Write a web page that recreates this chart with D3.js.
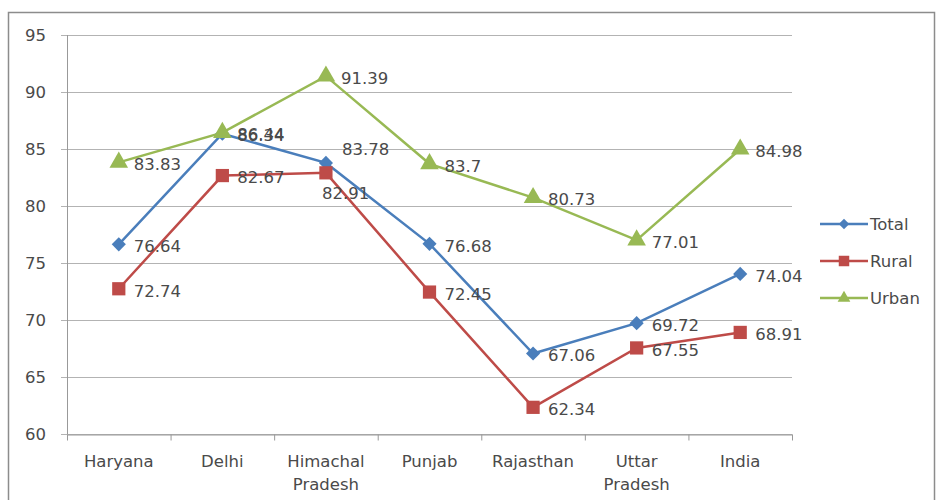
<!DOCTYPE html>
<html>
<head>
<meta charset="utf-8">
<script src="https://cdn.jsdelivr.net/npm/d3@7"></script>
<style>
  body { margin: 0; background: #fff; }
  svg text { font-family: "DejaVu Sans", sans-serif; fill: #4a4a4a; }
</style>
</head>
<body>
<div class="chart"></div>
<script>
// chart data
const categories = ["Haryana", "Delhi", "Himachal Pradesh", "Punjab", "Rajasthan", "Uttar Pradesh", "India"]
const total = [76.64, 86.34, 83.78, 76.68, 67.06, 69.72, 74.04]
const rural = [72.74, 82.67, 82.91, 72.45, 62.34, 67.55, 68.91]
const urban = [83.83, 86.44, 91.39, 83.7, 80.73, 77.01, 84.98]
const yTicks = [60, 65, 70, 75, 80, 85, 90, 95]

const width = 937, height = 500
const padding = {left: 67, right: 145, top: 35, bottom: 66}
const fontSize = 16.5

const series = [
    {name: "Total", values: total, color: "#4a7ebb", shape: d3.symbolSquare, rot: 45, size: 100, legendSize: 55},
    {name: "Rural", values: rural, color: "#be4b48", shape: d3.symbolSquare, rot: 0, size: 175, legendSize: 110},
    {name: "Urban", values: urban, color: "#98b954", shape: d3.symbolTriangle, rot: 0, size: 150, legendSize: 70}
]

// some labels sit off the default right-hand spot
const labelShift = {
    "Total-2": [16, -14],
    "Rural-2": [-4, 20]
}

const svg = d3.select(".chart").append("svg").attr("width", width).attr("height", height)

svg.append("rect")
    .attr("x", 8.5).attr("y", 12.5)
    .attr("width", 926).attr("height", 490)
    .attr("fill", "none").attr("stroke", "#8c8c8c").attr("stroke-width", 1.5)

const xScale = d3.scaleBand()
    .domain(categories)
    .range([padding.left, width - padding.right])

const yScale = d3.scaleLinear()
    .domain([60, 95])
    .range([height - padding.bottom, padding.top])

// grid
svg.append("g")
    .selectAll("line")
    .data(yTicks)
    .enter()
    .append("line")
    .attr("x1", padding.left - 6)
    .attr("x2", width - padding.right)
    .attr("y1", d => Math.round(yScale(d)) + 0.5)
    .attr("y2", d => Math.round(yScale(d)) + 0.5)
    .attr("stroke", "#b3b3b3")

svg.append("line")
    .attr("x1", padding.left + 0.5).attr("x2", padding.left + 0.5)
    .attr("y1", padding.top).attr("y2", yScale(60))
    .attr("stroke", "#999")

svg.append("g")
    .selectAll("text")
    .data(yTicks)
    .enter()
    .append("text")
    .attr("x", 46)
    .attr("y", d => yScale(d))
    .attr("dy", "0.35em")
    .attr("text-anchor", "end")
    .attr("font-size", fontSize)
    .text(d => d)

// x axis
const xAxis = svg.append("g")
    .attr("transform", "translate(0," + (Math.round(yScale(60)) + 0.5) + ")")
    .call(d3.axisBottom(xScale).tickSize(0).tickFormat(""))
xAxis.select(".domain").attr("stroke", "#999")
const bounds = categories.map(c => xScale(c)).concat([width - padding.right])
xAxis.selectAll(".edge")
    .data(bounds)
    .enter()
    .append("line")
    .attr("x1", d => d + 0.5).attr("x2", d => d + 0.5)
    .attr("y1", 0).attr("y2", 6)
    .attr("stroke", "#999")

svg.append("g")
    .selectAll("text")
    .data(categories)
    .enter()
    .append("text")
    .attr("text-anchor", "middle")
    .attr("font-size", fontSize)
    .each(function(d) {
        const words = d.split(" ")
        const t = d3.select(this)
        words.forEach((w, i) => {
            t.append("tspan")
                .attr("x", xScale(d) + xScale.bandwidth() / 2)
                .attr("y", 467 + i * 23)
                .text(w)
        })
    })

// lines
const cx = i => xScale(categories[i]) + xScale.bandwidth() / 2
const lineFunction = d3.line()
    .x((d, i) => cx(i))
    .y(d => yScale(d))

series.forEach(s => {
    svg.append("path")
        .attr("d", lineFunction(s.values))
        .attr("fill", "none")
        .attr("stroke", s.color)
        .attr("stroke-width", 2.5)
})

series.forEach(s => {
    svg.append("g")
        .selectAll("path")
        .data(s.values)
        .enter()
        .append("path")
        .attr("transform", (d, i) => "translate(" + cx(i) + "," + yScale(d) + ") rotate(" + s.rot + ")")
        .attr("d", d3.symbol().type(s.shape).size(s.size))
        .attr("fill", s.color)
})

series.forEach(s => {
    svg.append("g")
        .selectAll("text")
        .data(s.values)
        .enter()
        .append("text")
        .attr("x", (d, i) => cx(i) + (labelShift[s.name + "-" + i] || [15, 0])[0])
        .attr("y", (d, i) => yScale(d) + (labelShift[s.name + "-" + i] || [15, 2])[1])
        .attr("dy", "0.35em")
        .attr("font-size", fontSize)
        .text(d => d)
})

// legend
const legend = svg.append("g").attr("transform", "translate(820,0)")
series.forEach((s, i) => {
    const y = 224 + i * 37
    legend.append("line")
        .attr("x1", 0).attr("x2", 48)
        .attr("y1", y).attr("y2", y)
        .attr("stroke", s.color).attr("stroke-width", 2.5)
    legend.append("path")
        .attr("transform", "translate(24," + y + ") rotate(" + s.rot + ")")
        .attr("d", d3.symbol().type(s.shape).size(s.legendSize))
        .attr("fill", s.color)
    legend.append("text")
        .attr("x", 50).attr("y", y)
        .attr("dy", "0.35em")
        .attr("font-size", fontSize)
        .text(s.name)
})
</script>
</body>
</html>
